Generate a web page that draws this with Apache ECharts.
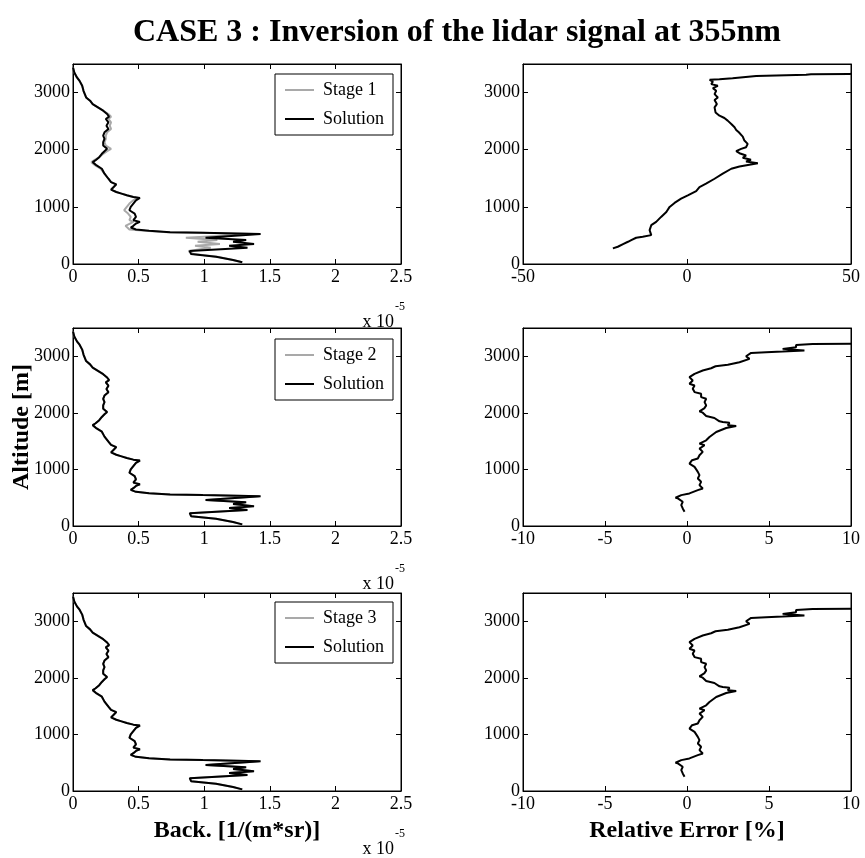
<!DOCTYPE html>
<html>
<head>
<meta charset="utf-8">
<script src="https://cdn.jsdelivr.net/npm/echarts@6/dist/echarts.min.js"></script>
<style>
  html, body { margin: 0; padding: 0; background: #fff; }
  #chart { width: 865px; height: 858px; }
</style>
</head>
<body>
<div id="chart"></div>
<script>
// ---- Backscatter profiles (x in units of 1e-5 1/(m*sr)) ----
const backAltitude = [3440, 3351, 3264, 3205, 3118, 3031, 2973, 2915, 2857, 2799, 2741, 2683, 2625, 2578, 2538, 2480, 2421, 2363, 2305, 2247, 2189, 2131, 2073, 2015, 1974, 1928, 1870, 1812, 1783, 1725, 1667, 1580, 1492, 1434, 1394, 1347, 1301, 1260, 1231, 1202, 1173, 1156, 1115, 1057, 999, 941, 883, 825, 767, 737, 708, 668, 639, 604, 581, 557, 546, 535, 525, 458, 418, 389, 348, 319, 284, 226, 174, 128, 70, 29];

const backSolution = [0.00, 0.01, 0.03, 0.05, 0.07, 0.08, 0.09, 0.10, 0.13, 0.15, 0.19, 0.23, 0.26, 0.275, 0.25, 0.27, 0.255, 0.27, 0.24, 0.23, 0.24, 0.23, 0.23, 0.26, 0.24, 0.22, 0.20, 0.17, 0.15, 0.18, 0.22, 0.24, 0.27, 0.29, 0.33, 0.31, 0.29, 0.33, 0.37, 0.41, 0.46, 0.51, 0.48, 0.46, 0.44, 0.43, 0.47, 0.48, 0.46, 0.51, 0.48, 0.46, 0.44, 0.48, 0.58, 0.74, 0.99, 1.25, 1.43, 1.01, 1.32, 1.22, 1.38, 1.19, 1.33, 0.89, 0.90, 1.09, 1.22, 1.29];

const backStage1 = [0.00, 0.01, 0.03, 0.05, 0.07, 0.08, 0.09, 0.10, 0.13, 0.15, 0.19, 0.23, 0.27, 0.29, 0.27, 0.29, 0.28, 0.29, 0.26, 0.25, 0.25, 0.24, 0.25, 0.29, 0.26, 0.23, 0.20, 0.16, 0.14, 0.17, 0.21, 0.24, 0.27, 0.29, 0.33, 0.31, 0.29, 0.33, 0.37, 0.41, 0.46, 0.50, 0.46, 0.43, 0.41, 0.39, 0.42, 0.44, 0.43, 0.46, 0.45, 0.40, 0.39, 0.43, 0.55, 0.72, 0.97, 1.20, 1.38, 0.86, 1.10, 0.95, 1.12, 0.93, 1.05, 0.88, 0.92, 1.10, 1.22, 1.29];

const backStage2 = [0.00, 0.01, 0.03, 0.05, 0.07, 0.08, 0.09, 0.10, 0.13, 0.15, 0.19, 0.23, 0.26, 0.275, 0.25, 0.27, 0.255, 0.27, 0.24, 0.23, 0.24, 0.23, 0.23, 0.26, 0.24, 0.22, 0.20, 0.17, 0.15, 0.18, 0.22, 0.24, 0.27, 0.29, 0.33, 0.31, 0.29, 0.33, 0.37, 0.41, 0.46, 0.51, 0.48, 0.46, 0.44, 0.43, 0.47, 0.48, 0.46, 0.51, 0.48, 0.46, 0.44, 0.48, 0.58, 0.74, 0.99, 1.25, 1.42, 1.02, 1.31, 1.22, 1.36, 1.19, 1.31, 0.89, 0.90, 1.09, 1.22, 1.29];

const backStage3 = [0.00, 0.01, 0.03, 0.05, 0.07, 0.08, 0.09, 0.10, 0.13, 0.15, 0.19, 0.23, 0.26, 0.275, 0.25, 0.27, 0.255, 0.27, 0.24, 0.23, 0.24, 0.23, 0.23, 0.26, 0.24, 0.22, 0.20, 0.17, 0.15, 0.18, 0.22, 0.24, 0.27, 0.29, 0.33, 0.31, 0.29, 0.33, 0.37, 0.41, 0.46, 0.51, 0.48, 0.46, 0.44, 0.43, 0.47, 0.48, 0.46, 0.51, 0.48, 0.46, 0.44, 0.48, 0.58, 0.74, 0.99, 1.25, 1.42, 1.02, 1.31, 1.22, 1.37, 1.19, 1.32, 0.89, 0.90, 1.09, 1.22, 1.29];

// ---- Relative error of stage 1 vs solution (%) ----
const err1Altitude = [273, 302, 348, 389, 418, 459, 476, 505, 592, 679, 737, 824, 911, 999, 1069, 1144, 1202, 1277, 1347, 1405, 1492, 1580, 1667, 1707, 1765, 1794, 1823, 1858, 1899, 1939, 1974, 2015, 2044, 2102, 2160, 2230, 2305, 2346, 2392, 2451, 2509, 2555, 2596, 2653, 2741, 2799, 2869, 2915, 2973, 3031, 3078, 3118, 3148, 3193, 3223, 3234, 3252, 3292, 3310, 3321, 3327, 3330];
const err1Values = [-22.6, -21.1, -19.5, -18.0, -17.0, -15.5, -13.5, -10.9, -11.4, -10.9, -9.4, -7.9, -6.3, -5.3, -3.8, -1.8, 0.25, 2.8, 3.8, 5.8, 8.4, 10.9, 13.5, 16.0, 21.6, 18.0, 19.5, 17.0, 18.0, 16.0, 15.0, 16.5, 18.0, 18.5, 17.5, 17.0, 15.8, 15.0, 14.5, 13.5, 12.4, 11.4, 9.9, 8.7, 8.4, 9.1, 8.4, 9.4, 8.4, 8.9, 7.9, 9.4, 7.4, 7.9, 6.9, 9.9, 13.9, 21.1, 36.3, 37.8, 49.5, 60];

// ---- Relative error of stages 2 and 3 vs solution (%) ----
const err2Altitude = [252, 311, 370, 429, 488, 499, 546, 576, 634, 664, 722, 781, 840, 899, 957, 987, 1045, 1104, 1163, 1193, 1251, 1310, 1369, 1427, 1457, 1515, 1574, 1662, 1732, 1767, 1780, 1827, 1838, 1850, 1909, 1944, 2003, 2026, 2085, 2132, 2190, 2249, 2279, 2338, 2367, 2426, 2484, 2514, 2573, 2631, 2690, 2749, 2789, 2824, 2849, 2895, 2954, 3001, 3060, 3071, 3083, 3101, 3131, 3160, 3201, 3219, 3222];
const err2Values = [-0.15, -0.26, -0.35, -0.26, -0.56, -0.70, -0.35, 0.15, 0.66, 0.96, 0.76, 0.86, 0.66, 0.76, 0.66, 0.76, 0.46, 0.15, 0.31, 0.66, 0.76, 0.96, 0.76, 1.07, 0.76, 1.17, 1.37, 1.78, 2.39, 3.0, 2.49, 2.59, 2.18, 1.98, 1.67, 1.17, 0.96, 0.76, 1.07, 1.17, 1.07, 1.17, 0.86, 0.86, 0.46, 0.35, 0.46, 0.15, 0.35, 0.15, 0.46, 0.96, 1.47, 1.74, 2.49, 3.2, 3.81, 3.6, 3.91, 4.82, 5.83, 7.16, 5.83, 6.65, 6.65, 7.66, 11];
const err3Altitude = [252, 311, 370, 429, 488, 499, 546, 576, 634, 664, 722, 781, 840, 899, 957, 987, 1045, 1104, 1163, 1193, 1251, 1310, 1369, 1427, 1457, 1515, 1574, 1662, 1732, 1767, 1780, 1827, 1838, 1850, 1909, 1944, 2003, 2026, 2085, 2132, 2190, 2249, 2279, 2338, 2367, 2426, 2484, 2514, 2573, 2631, 2690, 2749, 2789, 2824, 2849, 2895, 2954, 3001, 3060, 3071, 3083, 3101, 3131, 3160, 3201, 3219, 3222];
const err3Values = [-0.15, -0.26, -0.35, -0.26, -0.56, -0.70, -0.35, 0.15, 0.66, 0.96, 0.76, 0.86, 0.66, 0.76, 0.66, 0.76, 0.46, 0.15, 0.31, 0.66, 0.76, 0.96, 0.76, 1.07, 0.76, 1.17, 1.37, 1.78, 2.39, 3.0, 2.49, 2.59, 2.18, 1.98, 1.67, 1.17, 0.96, 0.76, 1.07, 1.17, 1.07, 1.17, 0.86, 0.86, 0.46, 0.35, 0.46, 0.15, 0.35, 0.15, 0.46, 0.96, 1.47, 1.74, 2.49, 3.2, 3.81, 3.6, 3.91, 4.82, 5.83, 7.16, 5.83, 6.65, 6.65, 7.66, 11];

// ---- Axes and labels ----
const altitudeRange = [0, 3500, 1000];
const backRange = [0, 2.5, 0.5];
const errRangeWide = [-50, 50, 50];
const errRangeNarrow = [-10, 10, 5];
const stageNames = ['Stage 1', 'Stage 2', 'Stage 3'];
const titleText = 'CASE 3 : Inversion of the lidar signal at 355nm';
const yTitle = 'Altitude [m]';
const xTitleLeft = 'Back. [1/(m*sr)]';
const xTitleRight = 'Relative Error [%]';

const FONT = "'Liberation Serif', 'Times New Roman', Times, serif";
const GRAY = '#a9a9a9';

// panel geometry
const colLeft = [73, 523];
const colWidth = 328;
const rowTop = [64, 328, 593];
const rowHeight = [200, 198, 198];

const grids = [];
for (let r = 0; r < 3; r++) {
  for (let c = 0; c < 2; c++) {
    grids.push({
      left: colLeft[c], top: rowTop[r], width: colWidth, height: rowHeight[r],
      show: true, borderColor: '#000', borderWidth: 1, backgroundColor: '#fff'
    });
  }
}

const xRanges = [backRange, errRangeWide, backRange, errRangeNarrow, backRange, errRangeNarrow];

function axisBase(range, gi, pos, labels) {
  return {
    type: 'value', gridIndex: gi, position: pos,
    min: range[0], max: range[1], interval: range[2],
    axisLine: { show: true, onZero: false, lineStyle: { color: '#000', width: 1 } },
    axisTick: { show: true, inside: true, length: 5, lineStyle: { color: '#000', width: 1 } },
    splitLine: { show: false },
    axisLabel: labels ? {
      show: true, color: '#000', fontFamily: FONT, fontSize: 18, margin: 4
    } : { show: false }
  };
}

const xAxes = [];
const yAxes = [];
for (let g = 0; g < 6; g++) {
  xAxes.push(axisBase(xRanges[g], g, 'bottom', true));
  xAxes.push(axisBase(xRanges[g], g, 'top', false));
  const yl = axisBase(altitudeRange, g, 'left', true);
  yl.axisLabel.margin = 3;
  yl.axisLabel.formatter = v => (v > 3000 ? '' : String(v));
  yAxes.push(yl);
  yAxes.push(axisBase(altitudeRange, g, 'right', false));
}

function profile(xs, alts) {
  return alts.map((a, i) => [xs[i], a]);
}

function lineSeries(name, g, data, color) {
  return {
    name, type: 'line', xAxisIndex: 2 * g, yAxisIndex: 2 * g,
    data, symbol: 'none', clip: true, silent: true, animation: false,
    lineStyle: { color, width: 2 }, itemStyle: { color }
  };
}

const series = [
  lineSeries(stageNames[0], 0, profile(backStage1, backAltitude), GRAY),
  lineSeries('Solution', 0, profile(backSolution, backAltitude), '#000'),
  lineSeries('err1', 1, profile(err1Values, err1Altitude), '#000'),
  lineSeries(stageNames[1], 2, profile(backStage2, backAltitude), GRAY),
  lineSeries('Solution', 2, profile(backSolution, backAltitude), '#000'),
  lineSeries('err2', 3, profile(err2Values, err2Altitude), '#000'),
  lineSeries(stageNames[2], 4, profile(backStage3, backAltitude), GRAY),
  lineSeries('Solution', 4, profile(backSolution, backAltitude), '#000'),
  lineSeries('err3', 5, profile(err3Values, err3Altitude), '#000')
];

// legend key: a plain 2px stroke, no marker
const LINE_ICON = 'path://M0,0 L29,0 L29,2 L0,2 Z';
const legendTops = [74, 339, 602];
const legends = stageNames.map((s, i) => ({
  data: [s, 'Solution'],
  orient: 'vertical', left: 275, top: legendTops[i],
  icon: LINE_ICON, symbolKeepAspect: true,
  itemWidth: 29, itemHeight: 14, itemGap: 11,
  padding: [7, 9, 7, 10],
  backgroundColor: '#fff', borderColor: '#000', borderWidth: 1,
  selectedMode: false,
  textStyle: { color: '#000', fontFamily: FONT, fontSize: 18, padding: [0, 0, 0, 4] }
}));

// text annotations
const graphics = [
  { type: 'text', x: 457, y: 33, style: { text: titleText, font: 'bold 32px ' + FONT, fill: '#000', textAlign: 'center', textVerticalAlign: 'middle', align: 'center', verticalAlign: 'middle' } },
  { type: 'text', x: 22, y: 427, rotation: Math.PI / 2, style: { text: yTitle, font: 'bold 24px ' + FONT, fill: '#000', textAlign: 'center', textVerticalAlign: 'middle', align: 'center', verticalAlign: 'middle' } },
  { type: 'text', x: colLeft[0] + colWidth / 2, y: 831, style: { text: xTitleLeft, font: 'bold 24px ' + FONT, fill: '#000', textAlign: 'center', textVerticalAlign: 'middle', align: 'center', verticalAlign: 'middle' } },
  { type: 'text', x: colLeft[1] + colWidth / 2, y: 831, style: { text: xTitleRight, font: 'bold 24px ' + FONT, fill: '#000', textAlign: 'center', textVerticalAlign: 'middle', align: 'center', verticalAlign: 'middle' } }
];
for (let r = 0; r < 3; r++) {
  const yb = rowTop[r] + rowHeight[r] + 58;
  graphics.push({ type: 'text', x: 394, y: yb, style: { text: 'x 10', font: '18px ' + FONT, fill: '#000', textAlign: 'right', textVerticalAlign: 'middle', align: 'right', verticalAlign: 'middle' } });
  graphics.push({ type: 'text', x: 395, y: yb - 15, style: { text: '-5', font: '12px ' + FONT, fill: '#000', textAlign: 'left', textVerticalAlign: 'middle', align: 'left', verticalAlign: 'middle' } });
}

const chart = echarts.init(document.getElementById('chart'), null, { renderer: 'canvas' });
chart.setOption({
  animation: false,
  backgroundColor: '#fff',
  grid: grids,
  xAxis: xAxes,
  yAxis: yAxes,
  legend: legends,
  series: series,
  graphic: graphics
});
</script>
</body>
</html>
